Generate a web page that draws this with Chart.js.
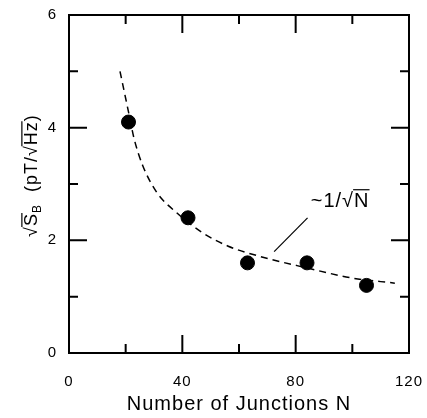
<!DOCTYPE html>
<html>
<head>
<meta charset="utf-8">
<script src="https://cdn.jsdelivr.net/npm/chart.js@4/dist/chart.umd.min.js"></script>
<style>
  html, body { margin: 0; padding: 0; background: #fff; }
  #box { width: 427px; height: 418px; }
</style>
</head>
<body>
<div id="box"><canvas id="chart" width="427" height="418"></canvas></div>
<script>
// measured points
const junctions = [21, 42, 63, 84, 105];
const noise = [4.1, 2.4, 1.6, 1.6, 1.2];

// dashed ~1/sqrt(N) guide
const fitN = [18, 21, 23, 26, 31, 38, 47, 56, 67, 84, 100, 115];
const fitS = [5.0, 4.28, 3.8, 3.33, 2.85, 2.49, 2.14, 1.9, 1.72, 1.51, 1.33, 1.24];

// pointer from the label to the curve
const leaderN = [72.4, 84.2];
const leaderS = [1.8, 2.4];

const xMajor = [0, 40, 80, 120];
const xMinor = [20, 60, 100];
const yMajor = [0, 2, 4, 6];
const yMinor = [1, 3, 5];

const FONT = '"Liberation Sans", Arial, Helvetica, sans-serif';

function pts(xs, ys) {
    return xs.map(function(x, i) { return { x: x, y: ys[i] }; });
}

// draw text pieces in a row; pieces after a radical get an overline
function drawPieces(ctx, pieces, cx, baseY) {
    let total = 0;
    pieces.forEach(function(p) {
        ctx.font = p.size + 'px ' + FONT;
        p.w = ctx.measureText(p.t).width;
        total += p.w;
    });
    let x = cx - total / 2;
    let barStart = null, barSize = 0;
    pieces.forEach(function(p) {
        ctx.font = p.size + 'px ' + FONT;
        ctx.fillText(p.t, x, baseY + (p.dy || 0));
        if (p.rad) { barStart = x + p.w - 1; barSize = p.size; }
        if (p.endBar && barStart !== null) {
            const by = baseY - barSize * 0.84;
            ctx.beginPath();
            ctx.moveTo(barStart, by);
            ctx.lineTo(x + p.w, by);
            ctx.stroke();
            barStart = null;
        }
        x += p.w;
    });
}

const boxTicks = {
    id: 'boxTicks',
    beforeDraw(chart) {
        chart.ctx.letterSpacing = '1px';
    },
    afterDraw(chart) {
        const ctx = chart.ctx, a = chart.chartArea;
        const x = chart.scales.x, y = chart.scales.y;
        ctx.save();
        ctx.strokeStyle = '#000';
        ctx.lineWidth = 2;
        ctx.strokeRect(a.left, a.top, a.right - a.left, a.bottom - a.top);
        ctx.beginPath();
        function tx(v, len) {
            const p = x.getPixelForValue(v);
            ctx.moveTo(p, a.bottom); ctx.lineTo(p, a.bottom - len);
            ctx.moveTo(p, a.top); ctx.lineTo(p, a.top + len);
        }
        function ty(v, len) {
            const p = y.getPixelForValue(v);
            ctx.moveTo(a.left, p); ctx.lineTo(a.left + len, p);
            ctx.moveTo(a.right, p); ctx.lineTo(a.right - len, p);
        }
        xMajor.forEach(function(v) { tx(v, 18); });
        xMinor.forEach(function(v) { tx(v, 9); });
        yMajor.forEach(function(v) { ty(v, 18); });
        yMinor.forEach(function(v) { ty(v, 9); });
        ctx.stroke();

        // y axis title, rotated
        ctx.fillStyle = '#000';
        ctx.lineWidth = 1.2;
        ctx.textBaseline = 'alphabetic';
        ctx.textAlign = 'left';
        ctx.translate(30, y.getPixelForValue(3.15));
        ctx.rotate(-Math.PI / 2);
        drawPieces(ctx, [
            { t: '√', size: 18, rad: true },
            { t: 'S', size: 18, endBar: true },
            { t: 'B', size: 12, dy: 4 },
            { t: '  (pT/', size: 18 },
            { t: '√', size: 18, rad: true },
            { t: 'Hz', size: 18, endBar: true },
            { t: ')', size: 18 }
        ], 0, 7);
        ctx.setTransform(1, 0, 0, 1, 0, 0);

        // curve label
        drawPieces(ctx, [
            { t: '~1/', size: 20 },
            { t: '√', size: 20, rad: true },
            { t: 'N', size: 20, endBar: true }
        ], x.getPixelForValue(95.7), y.getPixelForValue(2.6));
        ctx.restore();
    }
};

new Chart(document.getElementById('chart'), {
    type: 'scatter',
    data: {
        datasets: [
            {
                type: 'line',
                data: pts(fitN, fitS),
                showLine: true,
                borderColor: '#000',
                borderWidth: 1.5,
                borderDash: [7, 5],
                pointRadius: 0,
                cubicInterpolationMode: 'monotone',
                fill: false
            },
            {
                type: 'line',
                data: pts(leaderN, leaderS),
                showLine: true,
                borderColor: '#000',
                borderWidth: 1.2,
                pointRadius: 0,
                fill: false
            },
            {
                data: pts(junctions, noise),
                backgroundColor: '#000',
                borderColor: '#000',
                pointRadius: 7,
                pointHoverRadius: 7
            }
        ]
    },
    options: {
        responsive: false,
        animation: false,
        events: [],
        layout: { padding: 0 },
        plugins: { legend: { display: false }, tooltip: { enabled: false } },
        scales: {
            x: {
                type: 'linear', min: 0, max: 120,
                afterBuildTicks: function(s) { s.ticks = xMajor.map(function(v) { return { value: v }; }); },
                grid: { display: false, drawTicks: false },
                border: { display: false },
                ticks: { color: '#000', font: { family: FONT, size: 15 }, padding: 20, maxRotation: 0 },
                title: {
                    display: true, text: 'Number of Junctions N', color: '#000',
                    font: { family: FONT, size: 20 }, padding: { top: 0, bottom: 2 }
                },
                afterFit: function(s) {
                    s.height = 65;
                    s.paddingLeft = 0;
                    s.paddingRight = 18;
                }
            },
            y: {
                type: 'linear', min: 0, max: 6,
                afterBuildTicks: function(s) { s.ticks = yMajor.map(function(v) { return { value: v }; }); },
                grid: { display: false, drawTicks: false },
                border: { display: false },
                ticks: { color: '#000', font: { family: FONT, size: 15 }, padding: 12 },
                afterFit: function(s) {
                    s.width = 69;
                    s.paddingTop = 15;
                    s.paddingBottom = 0;
                }
            }
        }
    },
    plugins: [boxTicks]
});
</script>
</body>
</html>
